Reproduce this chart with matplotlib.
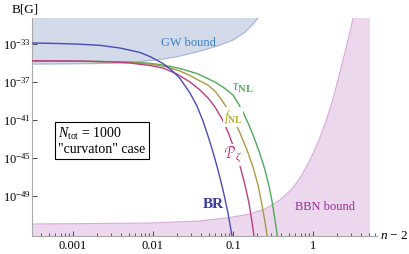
import numpy as np
import matplotlib
matplotlib.use("Agg")
import matplotlib.pyplot as plt
from matplotlib.ticker import LogLocator, FixedLocator, NullFormatter

plt.rcParams['font.family'] = ['Liberation Serif', 'DejaVu Serif']
plt.rcParams['mathtext.fontset'] = 'custom'
plt.rcParams['mathtext.rm'] = 'Liberation Serif'
plt.rcParams['mathtext.it'] = 'Liberation Serif:italic'
plt.rcParams['mathtext.bf'] = 'Liberation Serif:bold'

# log10(n-2) and log10(B[G])
br_lx = [-3.5125, -3.1625, -2.9125, -2.6625, -2.4125, -2.1625, -2.0375, -1.875, -1.7625, -1.6625,
         -1.5375, -1.45, -1.375, -1.3125, -1.25, -1.1875, -1.125, -1.0625, -1.0125, -0.9875]
br_ly = [-32.89, -32.95, -33.02, -33.14, -33.42, -33.89, -34.32, -35.05, -35.79, -36.63,
         -38.16, -39.53, -41.11, -42.68, -44.37, -46.26, -48.37, -50.79, -53.21, -54.47]

pz_lx = [-3.5125, -2.9125, -2.5375, -2.2875, -2.0375, -1.875, -1.7, -1.5375, -1.4125, -1.3125,
         -1.225, -1.1375, -1.0625, -0.9875, -0.9125, -0.85, -0.8, -0.7625, -0.7375, -0.7125]
pz_ly = [-34.76, -34.79, -34.88, -35.0, -35.26, -35.53, -36.16, -37.0, -37.84, -38.68,
         -39.63, -40.89, -42.26, -43.95, -45.84, -47.84, -49.74, -51.74, -53.21, -54.68]

fnl_lx = [-3.5125, -2.9125, -2.5375, -2.2875, -2.0375, -1.875, -1.6625, -1.5375, -1.4125, -1.3125, -1.225,
          -1.15, -1.075, -1.0, -0.9125, -0.825, -0.75, -0.6875, -0.6375, -0.6, -0.575, -0.55]
fnl_ly = [-34.79, -34.81, -34.87, -34.95, -35.11, -35.32, -35.84, -36.32, -36.89, -37.32, -37.95,
          -38.79, -39.74, -40.79, -42.37, -44.16, -45.95, -47.84, -49.95, -51.74, -53.11, -54.68]

tnl_lx = [-3.5125, -2.9125, -2.5375, -2.2875, -2.0375, -1.875, -1.6625, -1.45, -1.225, -1.1, -1.0,
          -0.9375, -0.875, -0.8, -0.725, -0.6625, -0.6, -0.55, -0.5125, -0.475, -0.45, -0.425]
tnl_ly = [-34.8, -34.82, -34.85, -34.89, -35.03, -35.21, -35.58, -36.11, -37.0, -37.68, -38.37,
          -39.21, -40.16, -41.53, -43.11, -44.58, -46.26, -47.95, -49.53, -51.53, -53.0, -54.68]

gw_lx = [-3.5125, -2.6625, -2.2875, -1.875, -1.6625, -1.4125, -1.2, -1.0, -0.85, -0.7625, -0.6875, -0.65]
gw_ly = [-35.11, -35.05, -34.95, -34.58, -34.26, -33.74, -33.21, -32.58, -31.74, -31.0, -30.26, -29.63]

bbn_lx = [-3.5125, -2.6625, -2.0375, -1.4125, -1.0375, -0.7875, -0.6, -0.4125, -0.2625, -0.1375,
          -0.025, 0.075, 0.1625, 0.2375, 0.3125, 0.3875, 0.45, 0.5, 0.5375]
bbn_ly = [-51.95, -51.89, -51.84, -51.63, -51.26, -50.89, -50.37, -49.42, -48.26, -46.79,
          -45.0, -43.11, -41.11, -39.11, -36.79, -34.26, -32.16, -30.26, -28.79]
bbn_lxmax = 0.7125

xlo, xhi = -3.5125, 0.8
ylo, yhi = -53.21, -30.26

W, H = 409, 254
fig = plt.figure(figsize=(W / 100, H / 100), dpi=100)
ax = fig.add_axes([32 / W, 1 - 236 / H, (377 - 32) / W, (236 - 18) / H])
ax.set_xscale('log')
ax.set_yscale('log')
ax.set_xlim(10 ** xlo, 10 ** xhi)
ax.set_ylim(10 ** ylo, 10 ** yhi)

def p(a):
    return 10 ** np.array(a)

# GW bound
ax.fill_between(p(gw_lx), p(gw_ly), 1e-20, color='#d3dbeb', lw=0, zorder=1)
ax.plot(p(gw_lx), p(gw_ly), color='#aab5d8', lw=0.8, zorder=1.5)

# BBN bound
bx = p(bbn_lx + [bbn_lxmax, bbn_lxmax, bbn_lx[0]])
by = p(bbn_ly + [-20, -60, -60])
ax.fill(bx, by, color='#ecd8ec', lw=0, zorder=1)
ax.plot(p(bbn_lx), p(bbn_ly), color='#dcaadc', lw=0.8, zorder=1.5)

lw = 1.0
ax.plot(p(tnl_lx), p(tnl_ly), color='#4fa95c', lw=lw, zorder=3)
ax.plot(p(fnl_lx), p(fnl_ly), color='#a99a48', lw=lw, zorder=3)
ax.plot(p(pz_lx), p(pz_ly), color='#bb3f80', lw=lw, zorder=3)
ax.plot(p(br_lx), p(br_ly), color='#4a4ab8', lw=lw, zorder=3)

for s in ['top', 'right']:
    ax.spines[s].set_visible(False)
for s in ['left', 'bottom']:
    ax.spines[s].set_color('#aaaaaa')
    ax.spines[s].set_linewidth(0.8)

yt = [-33, -37, -41, -45, -49]
ax.yaxis.set_major_locator(FixedLocator([10.0 ** e for e in yt]))
ax.yaxis.set_minor_locator(FixedLocator([]))
ax.set_yticklabels([r'$10^{%d}$' % e for e in yt])
ax.xaxis.set_major_locator(FixedLocator([1e-3, 1e-2, 1e-1, 1]))
ax.set_xticklabels(['0.001', '0.01', '0.1', '1'])
ax.xaxis.set_minor_locator(LogLocator(base=10, subs=np.arange(2, 10), numticks=20))
ax.xaxis.set_minor_formatter(NullFormatter())
ax.tick_params(axis='both', which='major', direction='in', length=3.5, width=0.7,
               color='#444444', labelsize=9, pad=3)
ax.tick_params(axis='x', which='minor', direction='in', length=2, width=0.6, color='#444444')
ax.tick_params(axis='y', which='major', pad=1)

fig.text(25 / W, 1 - 10 / H, 'B[G]', fontsize=9.5, ha='center', va='center')
fig.text(394 / W, 1 - 236 / H, r'$n$ $-$ 2', fontsize=9.5, ha='center', va='center')

def lab(px, py, s, c, box=False, **kw):
    t = fig.text(px / W, 1 - py / H, s, color=c, ha='center', va='center', zorder=5, **kw)
    if box:
        t.set_bbox(dict(boxstyle='square,pad=0.05', fc='white', ec='none'))

lab(188, 43, 'GW bound', '#3a80c8', fontsize=9)
lab(243, 88, r'$\tau_{\mathbf{NL}}$', '#4fa95c', fontsize=11)
lab(233, 117, r'$f_{\mathbf{NL}}$', '#b3b02a', box=True, fontsize=10)
lab(233, 155, r'$\mathcal{P}_{\,\zeta}$', '#c0186a', box=True, fontsize=11)
lab(213, 205, 'BR', '#3a3aa0', fontsize=11, fontweight='bold')
lab(325, 207, 'BBN bound', '#9a2a9a', fontsize=9)

fig.text(58 / W, 1 - 141 / H, '$N_{\\rm tot}$ = 1000\n"curvaton" case', fontsize=10,
         ha='left', va='center', linespacing=1.05,
         bbox=dict(boxstyle='square,pad=0.25', fc='white', ec='black', lw=0.8))

fig.savefig('out.png', dpi=100)
